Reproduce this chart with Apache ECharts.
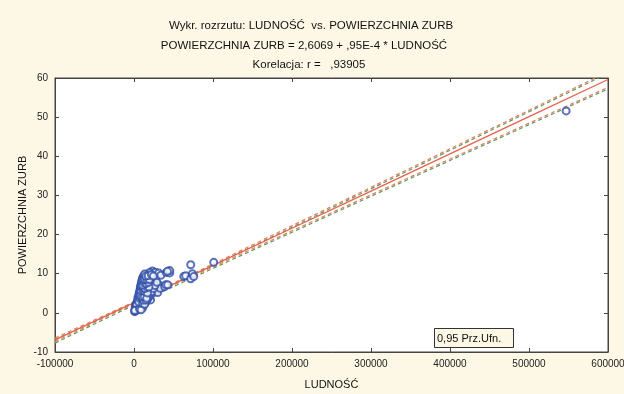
<!DOCTYPE html>
<html><head><meta charset="utf-8">
<script src="https://cdn.jsdelivr.net/npm/echarts@6/dist/echarts.min.js"></script>
<style>html,body{margin:0;padding:0;background:#FCF8E5;}#c{width:624px;height:394px;}</style>
</head><body><div id="c"></div>
<script>
const titleLines = [
  'Wykr. rozrzutu: LUDNOŚĆ  vs. POWIERZCHNIA ZURB',
  'POWIERZCHNIA ZURB = 2,6069 + ,95E-4 * LUDNOŚĆ',
  'Korelacja: r =   ,93905'
];
const xName = 'LUDNOŚĆ';
const yName = 'POWIERZCHNIA ZURB';
const legendText = '0,95 Prz.Ufn.';
const xTicks = [-100000, 0, 100000, 200000, 300000, 400000, 500000, 600000];
const yTicks = [-10, 0, 10, 20, 30, 40, 50, 60];

// regression line and 95% confidence band, read at the x tick positions
const lineX = [-100000, 0, 100000, 200000, 300000, 400000, 500000, 600000];
const fitY = [-6.89, 2.61, 12.11, 21.61, 31.11, 40.61, 50.11, 59.61];
const upperY = [-6.44, 2.81, 12.46, 22.26, 32.06, 41.91, 51.76, 61.61];
const lowerY = [-7.34, 2.41, 11.76, 20.96, 30.16, 39.31, 48.46, 57.61];

// observations [LUDNOŚĆ, POWIERZCHNIA ZURB]
const points = [
  [800,0.3],[1500,0.5],[2500,0.6],[1200,0.9],[3200,0.8],[2000,1.2],[4000,1.1],[3000,1.5],
  [5200,1.4],[1800,1.8],[4200,1.9],[6000,1.7],[2800,2.2],[5000,2.3],[7000,2.1],[3600,2.6],
  [6200,2.7],[8500,1.2],[8000,2.5],[4500,3.0],[7000,3.1],[9500,2.9],[12700,2.9],[5500,3.5],
  [8000,3.6],[10500,3.4],[6500,4.0],[9000,4.1],[11500,3.9],[14000,3.7],[17000,4.2],[21000,3.3],
  [7500,4.5],[10000,4.6],[12500,4.4],[15000,4.8],[6500,5.0],[8500,5.2],[11000,5.3],[13500,5.1],
  [16000,5.4],[19000,5.0],[7500,5.8],[10000,5.9],[12000,6.1],[14500,5.8],[17500,6.0],[20000,6.3],
  [8000,6.5],[10500,6.7],[13000,6.8],[15500,6.5],[18000,7.0],[22000,6.6],[9000,7.3],[11500,7.5],
  [14000,7.3],[16500,7.7],[19500,7.6],[24000,7.4],[31300,7.2],[10000,8.1],[12500,8.3],[15000,8.0],
  [17500,8.4],[21000,8.2],[26000,8.3],[11000,8.9],[13500,9.1],[16000,9.0],[19000,9.2],[21100,9.3],
  [27500,9.0],[14000,9.7],[17500,9.9],[23300,10.7],[20000,10.3],[27000,10.4],[31300,10.2],[34000,9.6],
  [5000,4.0],[6000,3.3],[7500,2.8],[9000,3.3],[10000,2.5],[11000,4.6],[13000,5.7],[9500,6.2],
  [12000,7.0],[15000,7.0],[8500,4.9],[6000,2.0],[4000,2.5],[3000,1.9],[2000,0.7],[1000,0.6],
  [12000,2.0],[14500,2.6],[16500,3.2],[18500,3.9],[20500,4.5],[23000,5.0],[25000,5.6],[28000,6.0],
  [30000,5.2],[33000,6.3],[9000,1.8],[11000,1.3],[13000,3.5],[15500,4.1],[18000,4.6],[22000,5.4],
  [24500,6.2],[26500,7.0],[29000,7.8],[5000,3.4],[6500,4.6],[7500,5.6],[8500,6.8],[9500,7.8],
  [10500,8.6],[12000,9.4],[13500,9.9],
  [7000,1.0],[9000,0.8],[6000,2.8],[11000,2.4],[13500,2.2],[7000,3.8],[9500,3.8],[12000,3.2],
  [15000,3.3],[8000,4.3],[10500,4.1],[13000,4.2],[16000,3.7],[9000,5.6],[11500,5.7],[14000,5.4],
  [17000,5.1],[9500,6.8],[12000,6.4],[14000,6.2],[16500,6.6],[19000,6.6],[11000,7.1],[13000,7.6],
  [15500,7.5],[18000,7.8],[12000,8.5],[14000,8.6],[16500,8.6],[19500,8.5],[15000,9.4],[18000,9.5],
  [22000,9.8],[24500,9.4],
  [38800,6.7],[40100,7.2],[42600,7.2],[41000,10.3],[45200,10.2],[45200,10.8],[42300,10.6],
  [63000,9.3],[65400,9.5],[71800,8.7],[73900,10.0],[75600,9.3],[71800,12.3],[100900,12.9],
  [547000,51.6]
];

const zip = (xs, ys) => xs.map((x, i) => [x, ys[i]]);
const font = 'Liberation Sans, Arial, sans-serif';
const chart = echarts.init(document.getElementById('c'), null, {renderer: 'canvas'});
const bandStyle = {color: '#e2805e', width: 1.2, type: [4, 3], shadowColor: '#5f9a5a', shadowOffsetY: 1.5, shadowBlur: 0};
const axisText = {color: '#222', fontSize: 10, fontFamily: font};
const titleStyle = {fontSize: 11.5, fontWeight: 'normal', color: '#111', fontFamily: font};
const axLine = {show: true, onZero: false, lineStyle: {color: '#444'}};
const axTick = {show: true, inside: true, length: 4, lineStyle: {color: '#444'}};
chart.setOption({
  animation: false,
  backgroundColor: '#FCF8E5',
  title: [
    {text: titleLines[0], left: 306, top: 15, textAlign: 'center', textStyle: titleStyle},
    {text: titleLines[1], left: 299, top: 35, textAlign: 'center', textStyle: titleStyle},
    {text: titleLines[2], left: 304, top: 54, textAlign: 'center', textStyle: titleStyle},
    {text: legendText, left: 434, top: 328, padding: [5, 13, 4, 3], borderColor: '#333', borderWidth: 1, backgroundColor: '#FCF8E5',
     textStyle: {fontSize: 11, fontWeight: 'normal', color: '#111', fontFamily: font}}
  ],
  grid: {left: 55, right: 16, top: 78, bottom: 42, outerBoundsMode: 'none', containLabel: false,
         show: true, backgroundColor: '#ffffff', borderColor: '#444', borderWidth: 1},
  xAxis: [
    {type: 'value', min: xTicks[0], max: xTicks[xTicks.length - 1], interval: 100000,
     name: xName, nameLocation: 'middle', nameGap: 27, nameMoveOverlap: false, nameTextStyle: {color: '#111', fontSize: 11, fontFamily: font},
     axisLine: axLine, axisTick: axTick,
     axisLabel: {...axisText, margin: 7, formatter: v => String(v)}, splitLine: {show: false}},
    {type: 'value', position: 'top', min: xTicks[0], max: xTicks[xTicks.length - 1], interval: 100000,
     axisLine: axLine, axisTick: axTick, axisLabel: {show: false}, splitLine: {show: false}}
  ],
  yAxis: [
    {type: 'value', min: yTicks[0], max: yTicks[yTicks.length - 1], interval: 10,
     name: yName, nameLocation: 'middle', nameGap: 27, nameMoveOverlap: false, nameTextStyle: {color: '#111', fontSize: 11, fontFamily: font},
     axisLine: axLine, axisTick: axTick,
     axisLabel: {...axisText, margin: 7}, splitLine: {show: false}},
    {type: 'value', position: 'right', min: yTicks[0], max: yTicks[yTicks.length - 1], interval: 10,
     axisLine: axLine, axisTick: axTick, axisLabel: {show: false}, splitLine: {show: false}}
  ],
  series: [
    {type: 'line', data: zip(lineX, upperY), symbol: 'none', lineStyle: bandStyle, z: 2, silent: true},
    {type: 'line', data: zip(lineX, lowerY), symbol: 'none', lineStyle: bandStyle, z: 2, silent: true},
    {type: 'line', data: zip(lineX, fitY), symbol: 'none', lineStyle: {color: '#e5624c', width: 1.3}, z: 3, silent: true},
    {type: 'scatter', data: points, symbol: 'emptyCircle', symbolSize: 7,
     itemStyle: {color: '#2f4ea8', borderColor: '#2f4ea8', borderWidth: 1.2}, z: 4}
  ]
});
</script></body></html>
